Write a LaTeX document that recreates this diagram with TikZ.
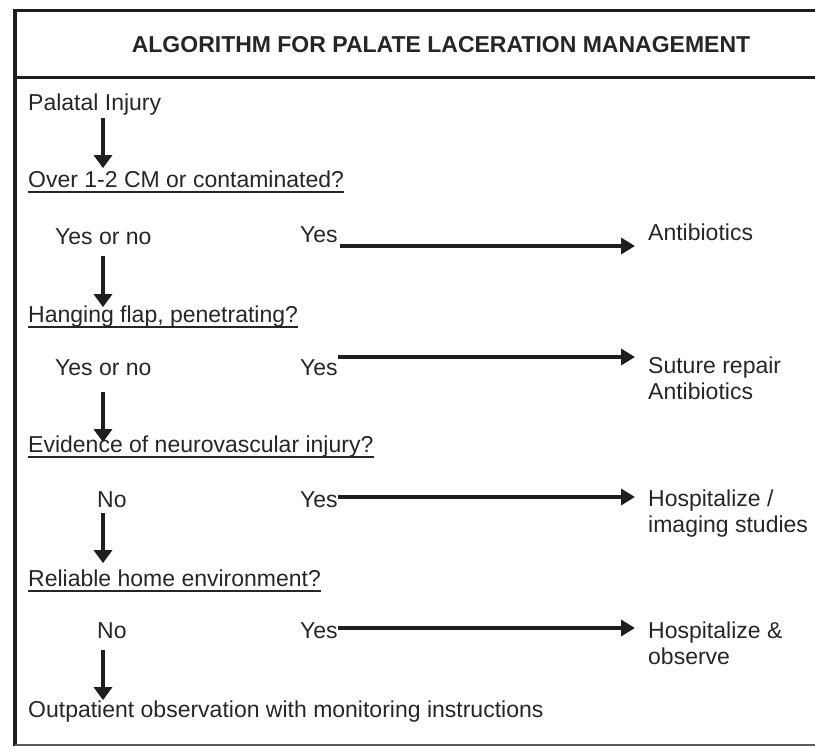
\documentclass[tikz,border=0pt]{standalone}
\usepackage{fontspec}
\setmainfont{Liberation Sans}
\usetikzlibrary{arrows.meta}
\definecolor{ink}{HTML}{262626}
\definecolor{rule}{HTML}{1E1E1E}
\begin{document}
\begin{tikzpicture}[x=1pt,y=-1pt,
  txt/.style={anchor=base west, inner sep=0pt, font=\fontsize{23}{26}\selectfont, text=ink},
  ttl/.style={inner sep=0pt, font=\fontsize{23}{26}\selectfont\bfseries, text=ink},
  frame/.style={draw=rule, line width=3pt},
  uline/.style={draw=ink, line width=1.6pt},
  varr/.style={draw=rule, line width=4.5pt, -{Triangle[width=18pt,length=13pt]}},
  harr/.style={draw=rule, line width=4.5pt, -{Triangle[width=16pt,length=14pt]}}]
\useasboundingbox (0,0) rectangle (815,748);
% frame
\draw[frame] (15,10) -- (815,10);
\draw[frame] (15,77) -- (815,77);
\draw[frame, line width=3.5pt] (15,8.5) -- (15,746);
\draw[frame, line width=2pt, draw=gray!70!black] (15,745) -- (815,745);
% title
\node[ttl] (title) at (441,45) {ALGORITHM FOR PALATE LACERATION MANAGEMENT};
% left column
\coordinate (ax) at (103,0);
\node[txt] (pi) at (28,110) {Palatal Injury};
\node[txt] (q1) at (28,187) {Over 1-2 CM or contaminated?};
\node[txt] (a1) at (55,244) {Yes or no};
\node[txt] (q2) at (28,322) {Hanging flap, penetrating?};
\node[txt] (a2) at (55,375) {Yes or no};
\node[txt] (q3) at (28,452) {Evidence of neurovascular injury?};
\node[txt] (a3) at (97,507) {No};
\node[txt] (q4) at (28,586) {Reliable home environment?};
\node[txt] (a4) at (97,638) {No};
\node[txt] (out) at (28,717) {Outpatient observation with monitoring instructions};
% underlines
\foreach \q in {q1,q2,q3,q4}
  \draw[uline] ([yshift=-5pt]\q.base west) -- ([yshift=-5pt]\q.base east);
% yes column
\node[txt] (y1) at (300,242) {Yes};
\node[txt] (y2) at (300,375) {Yes};
\node[txt] (y3) at (300,507) {Yes};
\node[txt] (y4) at (300,638) {Yes};
% results
\node[txt] (r1) at (648,240) {Antibiotics};
\node[txt] (r2) at (648,373) {Suture repair};
\node[txt] (r2b) at (648,399) {Antibiotics};
\node[txt] (r3) at (648,506) {Hospitalize /};
\node[txt] (r3b) at (648,532) {imaging studies};
\node[txt] (r4) at (648,638) {Hospitalize \&};
\node[txt] (r4b) at (648,664) {observe};
% vertical arrows
\draw[varr, shorten <=3pt, shorten >=2pt] (pi.south -| ax) -- (q1.north -| ax);
\draw[varr, shorten <=12pt, shorten >=-2pt] (a1.south -| ax) -- (q2.north -| ax);
\draw[varr, shorten <=17pt, shorten >=-7pt] (a2.south -| ax) -- (q3.north -| ax);
\draw[varr, shorten <=6pt, shorten >=6pt] (a3.south -| ax) -- (q4.north -| ax);
\draw[varr, shorten <=12pt, shorten >=0pt] (a4.south -| ax) -- (out.north -| ax);
% horizontal arrows
\draw[harr, shorten <=2pt, shorten >=13pt] ([yshift=-4pt]y1.base east) -- ([yshift=-4pt]y1.base east -| r1.west);
\draw[harr, shorten <=0pt, shorten >=13pt] ([yshift=18pt]y2.base east) -- ([yshift=18pt]y2.base east -| r2.west);
\draw[harr, shorten <=0pt, shorten >=13pt] ([yshift=10pt]y3.base east) -- ([yshift=10pt]y3.base east -| r3.west);
\draw[harr, shorten <=0pt, shorten >=13pt] ([yshift=10pt]y4.base east) -- ([yshift=10pt]y4.base east -| r4.west);
\end{tikzpicture}
\end{document}
